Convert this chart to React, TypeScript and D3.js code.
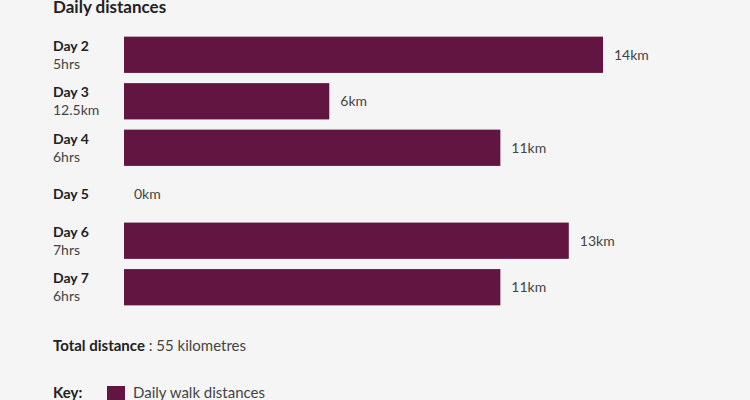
import React from "react";
import * as d3 from "d3";

const days = ["Day 2", "Day 3", "Day 4", "Day 5", "Day 6", "Day 7"];
const subLabels = ["5hrs", "12.5km", "6hrs", "", "7hrs", "6hrs"];
const distances = [14, 6, 11, 0, 13, 11];
const totalKm = 55;

const W = 750;
const H = 400;
const BAR = "#621541";

export default function App() {
  const x = d3.scaleLinear().domain([0, 14]).range([124, 603]);
  const y = d3.scaleBand().domain(days).range([32, 310]).paddingInner(0.22).paddingOuter(0.1);
  const font = "Lato, 'Open Sans', sans-serif";
  return (
    <svg width={W} height={H} style={{ position: "absolute", left: 0, top: 0, background: "#f5f5f5" }} fontFamily={font}>
      <rect x={0} y={0} width={W} height={H} fill="#f5f5f5" />
      <text x={53} y={13} fontSize={17} fontWeight="bold" fill="#222">Daily distances</text>
      {days.map((d, i) => {
        const yc = (y(d) as number) + y.bandwidth() / 2;
        const v = distances[i];
        const sub = subLabels[i];
        return (
          <g key={d}>
            {v > 0 && (
              <rect x={x(0)} y={y(d)} width={x(v) - x(0)} height={y.bandwidth()} fill={BAR} />
            )}
            {sub ? (
              <>
                <text x={53} y={yc - 4} fontSize={14} fontWeight="bold" fill="#222">{d}</text>
                <text x={53} y={yc + 14} fontSize={14} fill="#444">{sub}</text>
              </>
            ) : (
              <text x={53} y={yc + 5} fontSize={14} fontWeight="bold" fill="#222">{d}</text>
            )}
            <text x={v > 0 ? x(v) + 11 : x(0) + 10} y={yc + 5} fontSize={14} fill="#444">{`${v}km`}</text>
          </g>
        );
      })}
      <text x={53} y={351} fontSize={15} fill="#444">
        <tspan fontWeight="bold" fill="#222">Total distance</tspan>
        <tspan> : {totalKm} kilometres</tspan>
      </text>
      <text x={53} y={398} fontSize={15} fontWeight="bold" fill="#222">Key:</text>
      <rect x={107} y={386} width={18} height={18} fill={BAR} />
      <text x={133} y={398} fontSize={15} fill="#444">Daily walk distances</text>
    </svg>
  );
}
